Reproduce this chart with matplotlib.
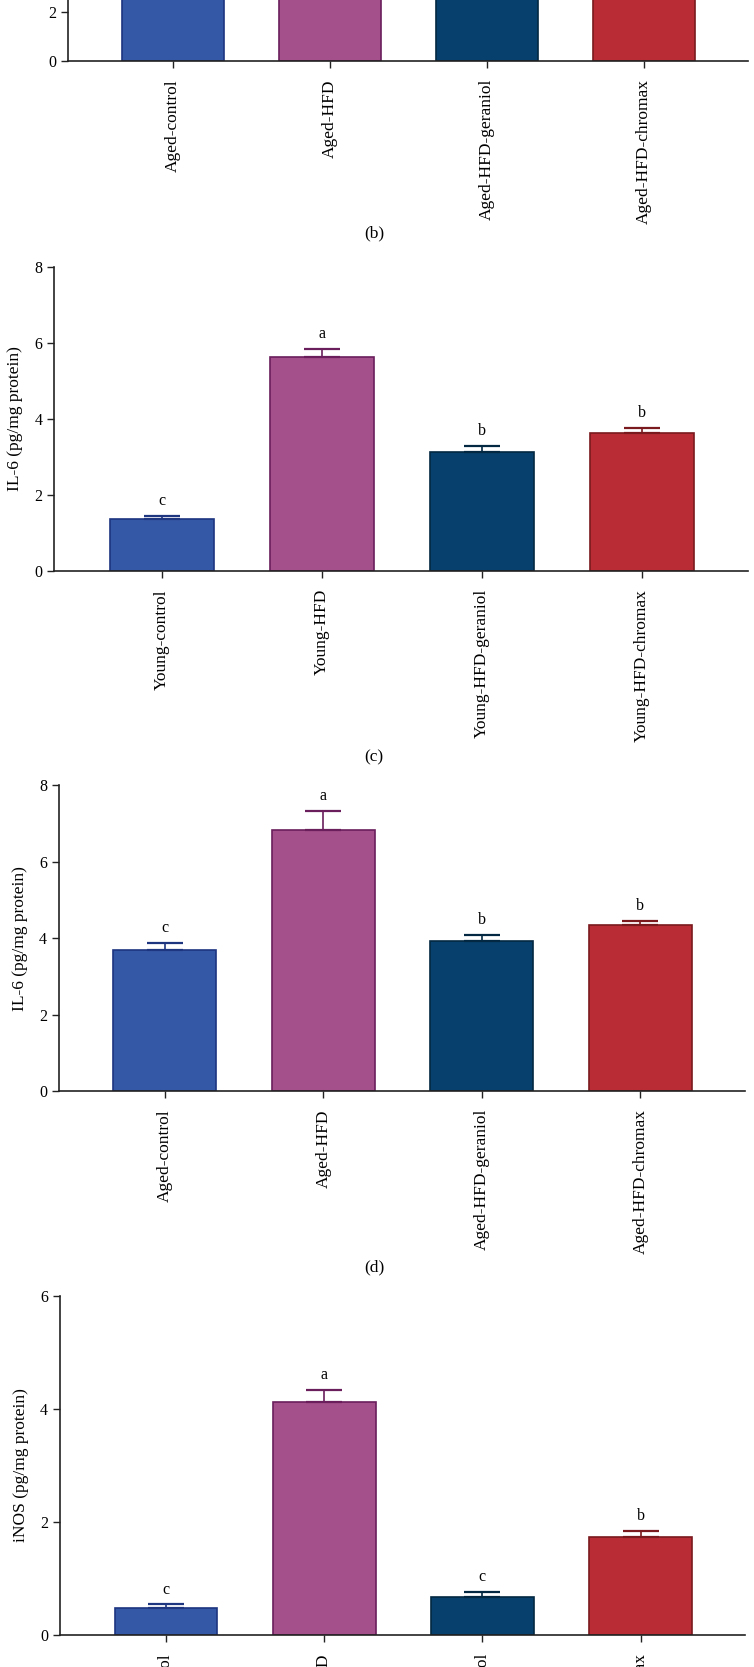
import numpy as np
import matplotlib
matplotlib.use("Agg")
import matplotlib.pyplot as plt

plt.rcParams['font.family'] = ['Liberation Serif', 'DejaVu Serif']

W, H = 754, 1667

young_groups = ["Young-control", "Young-HFD", "Young-HFD-geraniol", "Young-HFD-chromax"]
aged_groups = ["Aged-control", "Aged-HFD", "Aged-HFD-geraniol", "Aged-HFD-chromax"]

# panel (b) - only the lower part is visible, values above the crop are guesses
b_mean = [6.4, 9.6, 6.9, 7.5]
b_err = [0.3, 0.5, 0.3, 0.3]
b_ticks = [0, 2]

# panel (c) IL-6 young
c_mean = [1.36, 5.62, 3.13, 3.62]
c_err = [0.10, 0.22, 0.17, 0.14]
c_letters = ["c", "a", "b", "b"]
c_ticks = [0, 2, 4, 6, 8]

# panel (d) IL-6 aged
d_mean = [3.69, 6.84, 3.93, 4.35]
d_err = [0.18, 0.50, 0.16, 0.11]
d_letters = ["c", "a", "b", "b"]
d_ticks = [0, 2, 4, 6, 8]

# panel (e) iNOS
e_mean = [0.47, 4.12, 0.67, 1.73]
e_err = [0.07, 0.22, 0.09, 0.11]
e_letters = ["c", "a", "c", "b"]
e_ticks = [0, 2, 4, 6]

fills = ["#3558A6", "#A4508A", "#07406C", "#B92C35"]
edges = ["#1E3580", "#6A1E5C", "#032842", "#7A1A1E"]


def panel(left, right, y0, px_per_unit, ymax, yticks, groups, mean, err, letters=None,
          ylabel=None, caption=None, caption_y=None):
    top = y0 - px_per_unit * ymax
    ax = plt.gcf().add_axes([left / W, 1 - y0 / H, (right - left) / W, (y0 - top) / H])
    x = np.arange(len(groups))
    ax.bar(x, mean, width=0.65, color=fills, edgecolor=edges, linewidth=1.2, zorder=2)
    for i in range(len(x)):
        ax.errorbar(x[i], mean[i], yerr=[[0], [err[i]]], fmt='none', ecolor=edges[i],
                    elinewidth=1.2, capsize=13, capthick=1.6, zorder=3)
        if letters:
            ax.annotate(letters[i], (x[i], mean[i] + err[i]), xytext=(0, 5),
                        textcoords='offset points', ha='center', va='bottom', fontsize=11.5)
    ax.set_xlim(-0.67, 3.66)
    ax.set_ylim(0, ymax)
    ax.set_yticks(yticks)
    ax.set_xticks(x)
    ax.set_xticklabels(groups, rotation=90, fontsize=12.5)
    ax.tick_params(axis='y', labelsize=11.5, length=5, width=1, color='#222222')
    ax.tick_params(axis='x', length=5, width=1, color='#222222', pad=8)
    for s in ['top', 'right']:
        ax.spines[s].set_visible(False)
    for s in ['left', 'bottom']:
        ax.spines[s].set_color('#222222')
        ax.spines[s].set_linewidth(1.2)
    if ylabel:
        ax.set_ylabel(ylabel, fontsize=12.5, labelpad=8)
    if caption:
        plt.gcf().text(374 / W, 1 - caption_y / H, caption, ha='center', va='center',
                       fontsize=12.5)
    return ax


fig = plt.figure(figsize=(W / 100, H / 100), dpi=100)

panel(67.7, 747.6, 61, 24.5, 12, b_ticks, aged_groups, b_mean, b_err,
      caption="(b)", caption_y=233)
panel(54.3, 747.6, 571, 38.0, 8, c_ticks, young_groups, c_mean, c_err, c_letters,
      "IL-6 (pg/mg protein)", "(c)", 757)
panel(58.7, 745, 1091, 38.2, 8, d_ticks, aged_groups, d_mean, d_err, d_letters,
      "IL-6 (pg/mg protein)", "(d)", 1267)
panel(60, 745, 1635, 56.5, 6, e_ticks, aged_groups, e_mean, e_err, e_letters,
      "iNOS (pg/mg protein)")

fig.savefig("out.png", dpi=100)
